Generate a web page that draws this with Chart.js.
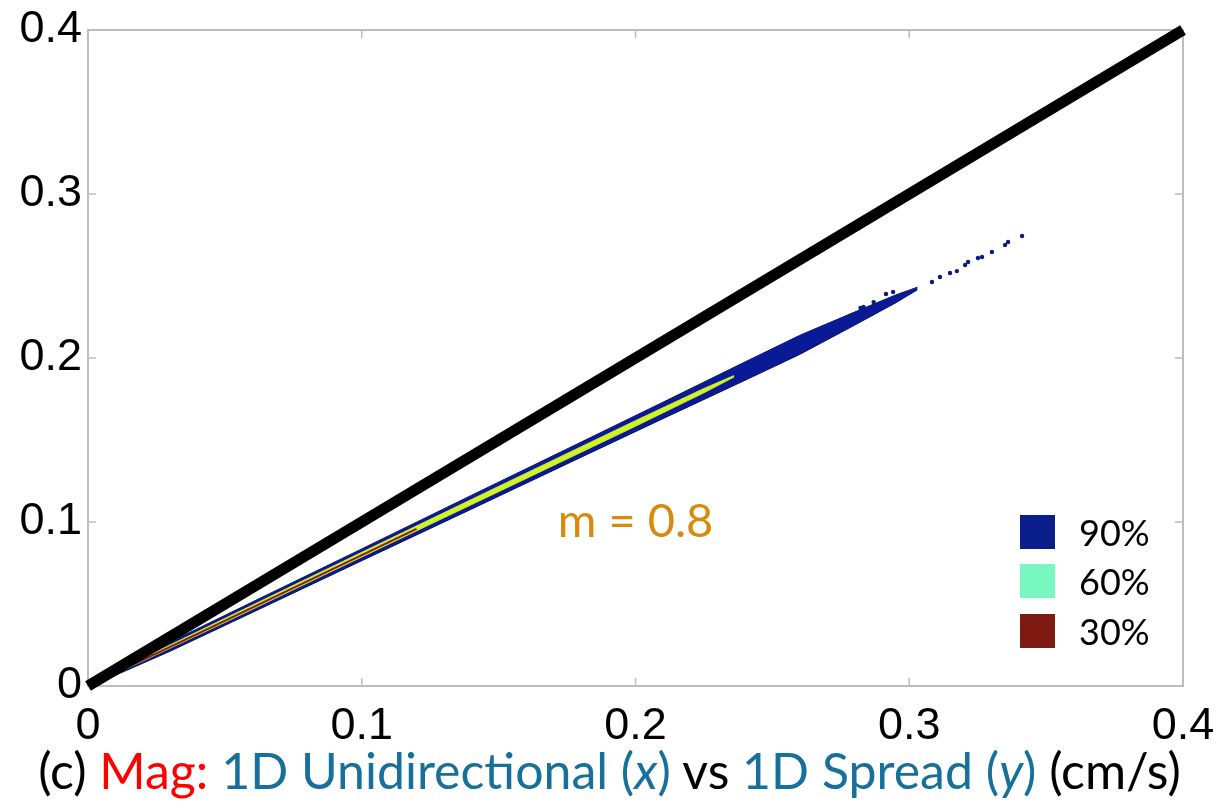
<!DOCTYPE html>
<html>
<head>
<meta charset="utf-8">
<script src="https://cdn.jsdelivr.net/npm/chart.js@4.4.1/dist/chart.umd.min.js"></script>
<style>
  html, body { margin: 0; padding: 0; background: #fff; }
  #wrap { position: relative; width: 1219px; height: 803px; }
  #chart { position: absolute; left: 0; top: 0; }
  .legend { position: absolute; left: 1020px; top: 507px; font-family: Lato, sans-serif; font-size: 36px; color: #000; }
  .legend-row { display: flex; align-items: center; height: 49.5px; }
  .legend-row span.swatch { width: 35px; height: 34px; margin-right: 24px; }
  .caption { position: absolute; left: 0; width: 1219px; top: 740px; text-align: center;
             font-family: Lato, sans-serif; font-size: 50px; color: #000; white-space: nowrap; }
  .caption .red { color: #ff0000; }
  .caption .blue { color: #17709b; }
</style>
</head>
<body>
<div id="wrap">
  <canvas id="chart" width="1219" height="803"></canvas>
  <div class="legend" id="legend"></div>
  <div class="caption">(c) <span class="red">Mag:</span> <span class="blue">1D Unidirectional (<i>x</i>)</span> vs <span class="blue">1D Spread (<i>y</i>)</span> (cm/s)</div>
</div>
<script>
// Axis ticks (same on x and y)
const tickValues = [0, 0.1, 0.2, 0.3, 0.4];
const tickLabels = ['0', '0.1', '0.2', '0.3', '0.4'];

// Reference line y = x
const identityX = [0, 0.4];
const identityY = [0, 0.4];

// 90% contour band (upper and lower edges)
const blueBandX     = [0.003, 0.03, 0.06, 0.10, 0.14, 0.18, 0.21, 0.24, 0.26, 0.28, 0.295, 0.303];
const blueBandUpper = [0.0034, 0.0268, 0.0512, 0.0836, 0.1162, 0.1486, 0.1730, 0.1976, 0.2138, 0.2280, 0.2384, 0.2432];
const blueBandLower = [0.0014, 0.0212, 0.0448, 0.0764, 0.1078, 0.1394, 0.1630, 0.1864, 0.2022, 0.2200, 0.2336, 0.2416];

// inner (yellow) core of the density
const coreX     = [0.01, 0.05, 0.10, 0.15, 0.20, 0.225, 0.236];
const coreUpper = [0.0088, 0.0412, 0.0815, 0.1217, 0.1618, 0.1814, 0.1893];
const coreLower = [0.0074, 0.0388, 0.0787, 0.1185, 0.1584, 0.1788, 0.1884];

// 30% contour (thin red line at low speeds)
const redX = [0.005, 0.04, 0.08, 0.12];
const redY = [0.0040, 0.0318, 0.0638, 0.0958];

// isolated points beyond the band
const outlierX = [0.3412, 0.3361, 0.3350, 0.3302, 0.3266, 0.3251, 0.3215, 0.3204, 0.3174, 0.3149, 0.3112, 0.3083, 0.2941, 0.2915, 0.2870, 0.2833, 0.2822];
const outlierY = [0.2744, 0.2707, 0.2689, 0.2646, 0.2616, 0.2610, 0.2585, 0.2567, 0.2530, 0.2518, 0.2494, 0.2463, 0.2402, 0.2390, 0.2341, 0.2311, 0.2305];

// legend entries
const legendLabels = ['90%', '60%', '30%'];
const legendColors = ['#0a1f8c', '#78f8c0', '#7e1a12'];

const toPoints = (xs, ys) => xs.map((x, i) => ({ x: x, y: ys[i] }));

// frame + inward tick marks (MATLAB style box)
const boxPlugin = {
  id: 'box',
  beforeDatasetsDraw(chart) {
    const { ctx, chartArea: a, scales } = chart;
    ctx.save();
    ctx.strokeStyle = '#bdbdbd';
    ctx.lineWidth = 2;
    ctx.strokeRect(a.left, a.top, a.right - a.left, a.bottom - a.top);
    ctx.lineWidth = 1.5;
    ctx.beginPath();
    tickValues.forEach(v => {
      const px = scales.x.getPixelForValue(v);
      const py = scales.y.getPixelForValue(v);
      ctx.moveTo(px, a.bottom); ctx.lineTo(px, a.bottom - 8);
      ctx.moveTo(px, a.top); ctx.lineTo(px, a.top + 8);
      ctx.moveTo(a.left, py); ctx.lineTo(a.left + 8, py);
      ctx.moveTo(a.right, py); ctx.lineTo(a.right - 8, py);
    });
    ctx.stroke();
    ctx.restore();
  },
  afterDatasetsDraw(chart) {
    const { ctx, scales } = chart;
    ctx.save();
    ctx.fillStyle = '#d98a0b';
    ctx.font = '47px Lato, sans-serif';
    ctx.textAlign = 'center';
    ctx.textBaseline = 'middle';
    ctx.fillText('m = 0.8', scales.x.getPixelForValue(0.2), scales.y.getPixelForValue(0.1));
    ctx.restore();
  }
};

const axisOptions = (fitSize, isX) => ({
  type: 'linear',
  min: 0,
  max: 0.4,
  grid: { display: false, drawTicks: false },
  border: { display: false },
  afterBuildTicks: scale => { scale.ticks = tickValues.map(v => ({ value: v })); },
  afterFit: scale => {
    // fixed axis sizes so the plot box lands where the original one is
    if (isX) {
      scale.height = fitSize;
      scale.paddingLeft = 0;
      scale.paddingRight = 0;
    } else {
      scale.width = fitSize;
      scale.paddingTop = 0;
      scale.paddingBottom = 0;
    }
  },
  ticks: {
    autoSkip: false,
    maxRotation: 0,
    padding: isX ? 14 : 6,
    color: '#000',
    font: { family: '"Liberation Sans", Arial, sans-serif', size: 45 },
    callback: (value, index) => tickLabels[index]
  }
});

new Chart(document.getElementById('chart'), {
  type: 'scatter',
  data: {
    datasets: [
      {
        type: 'line',
        data: toPoints(identityX, identityY),
        borderColor: '#000',
        borderWidth: 11,
        pointRadius: 0,
        clip: false,
        order: 0
      },
      {
        type: 'line',
        data: toPoints(blueBandX, blueBandUpper),
        borderColor: '#05105a',
        borderWidth: 1,
        pointRadius: 0,
        fill: false,
        order: 5
      },
      {
        type: 'line',
        data: toPoints(blueBandX, blueBandLower),
        borderColor: '#05105a',
        borderWidth: 1,
        backgroundColor: '#0a1a96',
        pointRadius: 0,
        fill: '-1',
        order: 4
      },
      {
        type: 'line',
        data: toPoints(coreX, coreUpper),
        borderColor: '#c8ea1e',
        borderWidth: 1,
        pointRadius: 0,
        fill: false,
        order: 3
      },
      {
        type: 'line',
        data: toPoints(coreX, coreLower),
        borderColor: '#c8ea1e',
        borderWidth: 1,
        backgroundColor: '#d2f22a',
        pointRadius: 0,
        fill: '-1',
        order: 2
      },
      {
        type: 'line',
        data: toPoints(redX, redY),
        borderColor: '#8b1a10',
        borderWidth: 2,
        pointRadius: 0,
        order: 1
      },
      {
        data: toPoints(outlierX, outlierY),
        backgroundColor: '#0a1a80',
        borderWidth: 0,
        pointRadius: 2.2,
        order: 1
      }
    ]
  },
  options: {
    responsive: false,
    animation: false,
    layout: { padding: { left: 0, right: 36, top: 30, bottom: 0 } },
    plugins: {
      legend: { display: false },
      tooltip: { enabled: false }
    },
    scales: {
      x: axisOptions(117, true),
      y: axisOptions(88, false)
    }
  },
  plugins: [boxPlugin]
});

// legend built from the arrays above
const legendEl = document.getElementById('legend');
legendLabels.forEach((label, i) => {
  const row = document.createElement('div');
  row.className = 'legend-row';
  row.innerHTML = '<span class="swatch" style="background:' + legendColors[i] + '"></span><span>' + label + '</span>';
  legendEl.appendChild(row);
});
</script>
</body>
</html>
